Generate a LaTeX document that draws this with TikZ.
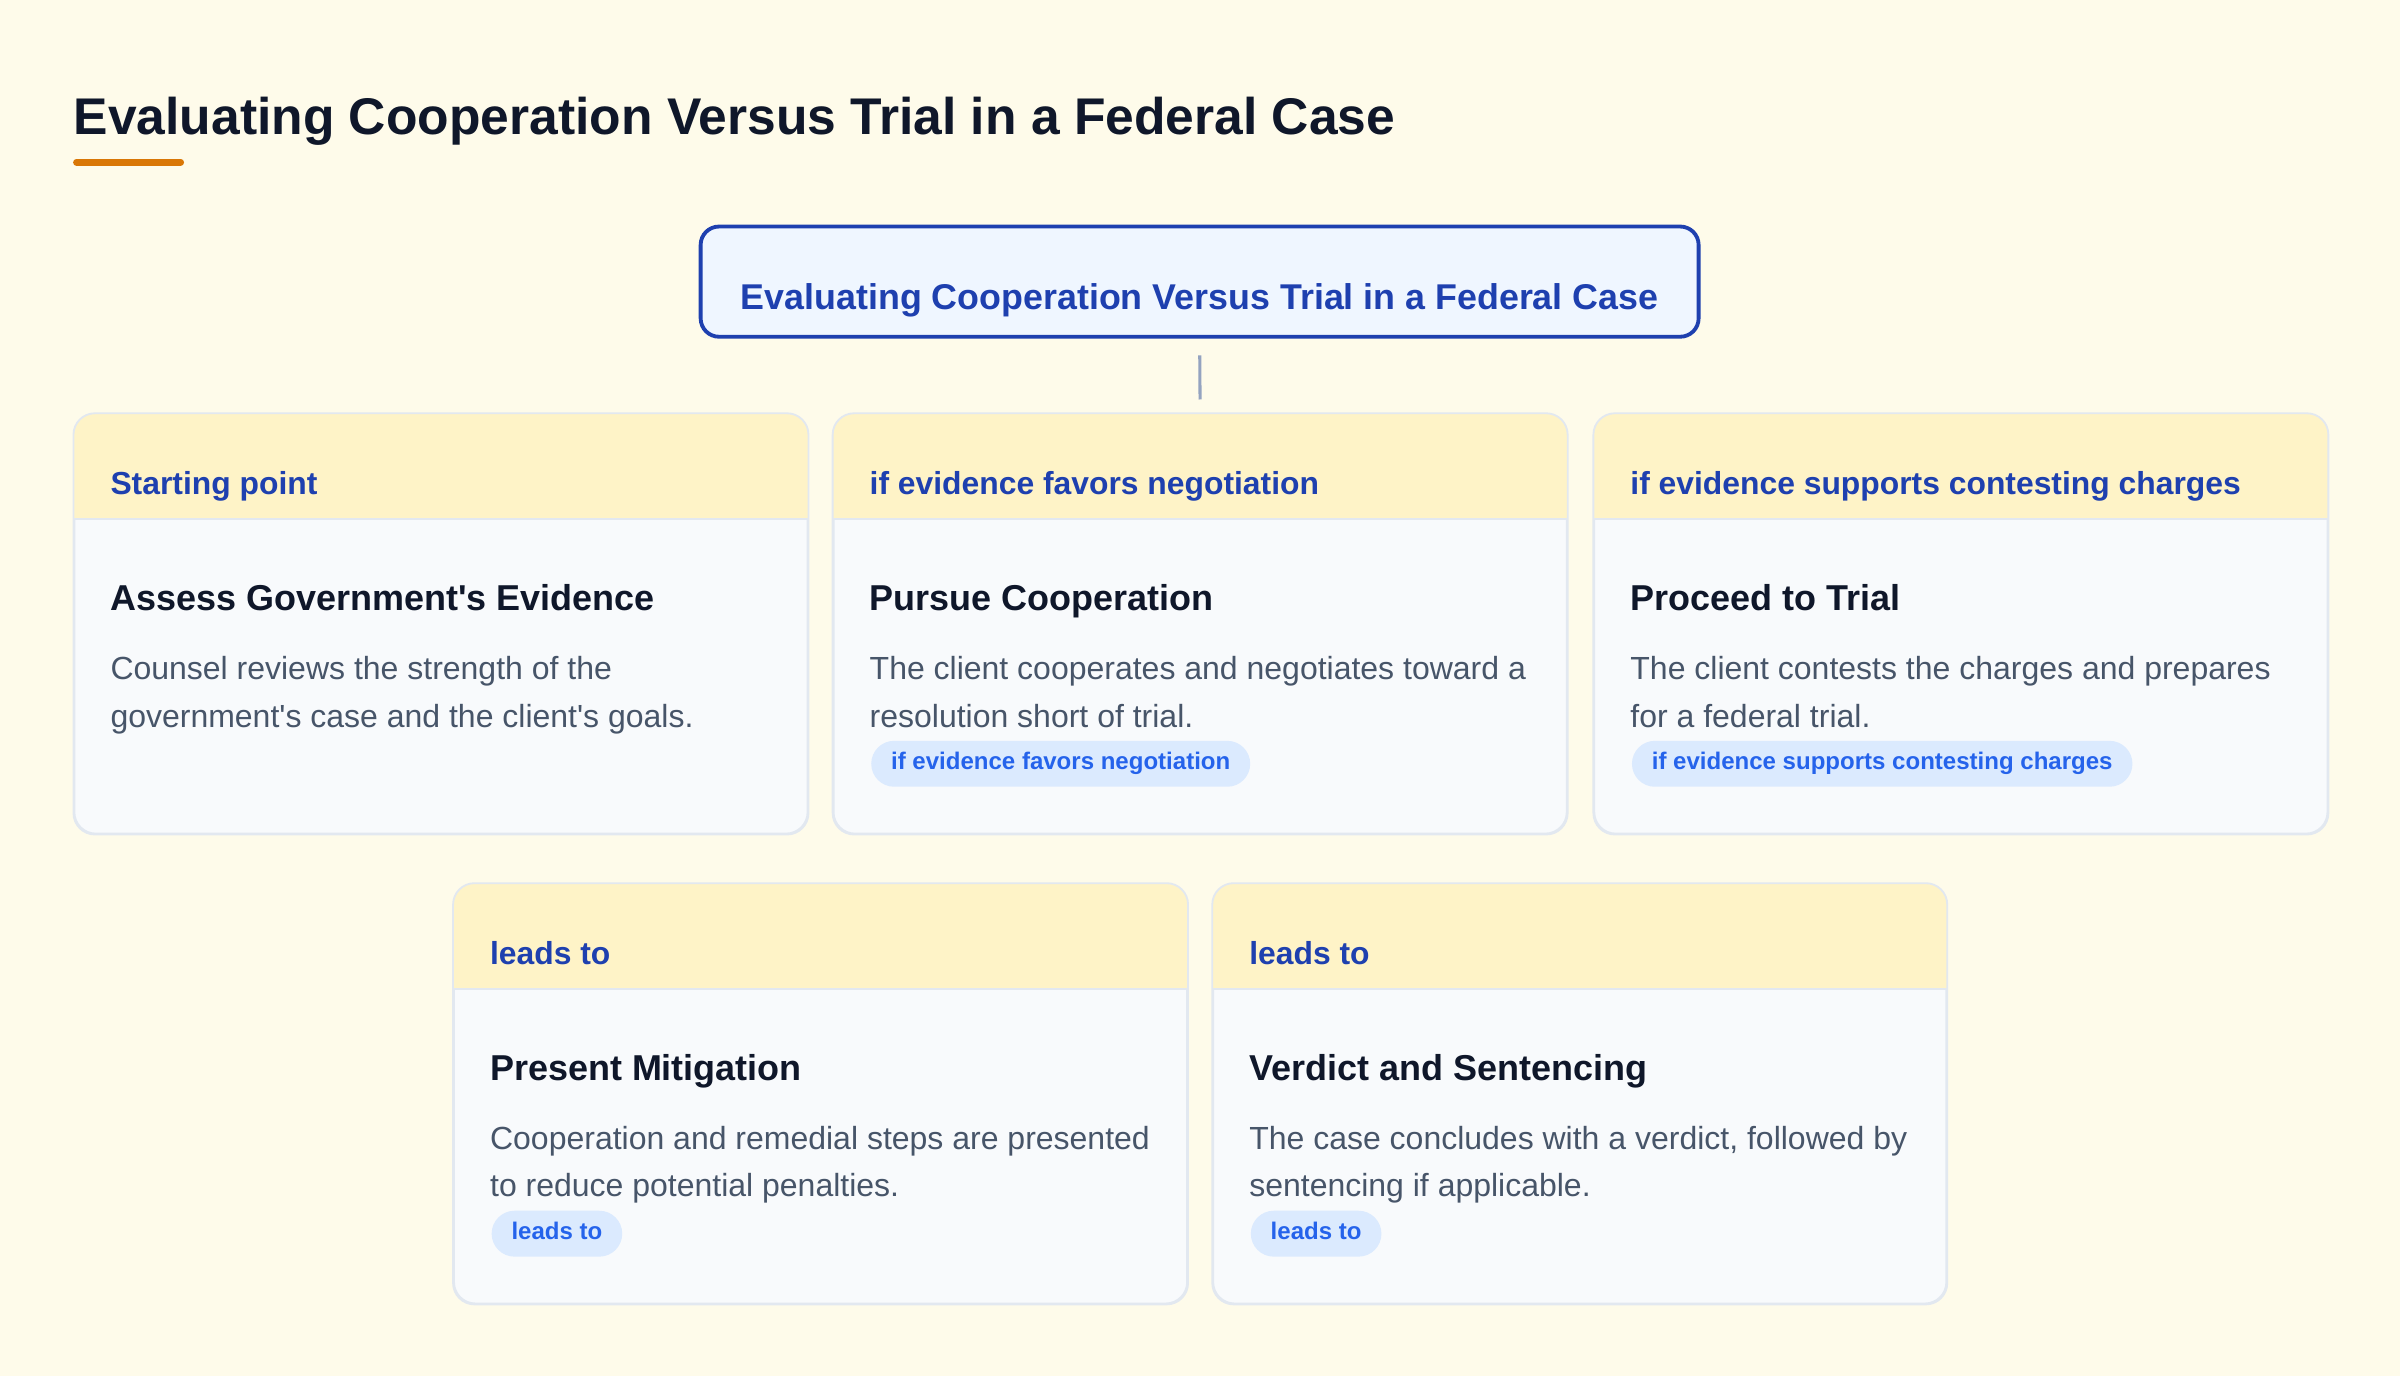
\documentclass[tikz,border=0pt]{standalone}
\usepackage{fontspec}
\setmainfont{Liberation Sans}
\usetikzlibrary{calc}
\definecolor{bgc}{HTML}{FEFBEA}
\definecolor{titlec}{HTML}{0F172A}
\definecolor{accent}{HTML}{D97706}
\definecolor{rootline}{HTML}{1E40AF}
\definecolor{rootfill}{HTML}{EFF6FF}
\definecolor{connc}{HTML}{94A3C0}
\definecolor{cardborder}{HTML}{E2E8F0}
\definecolor{cardfill}{HTML}{F8FAFC}
\definecolor{hdrc}{HTML}{FEF3C7}
\definecolor{descc}{HTML}{475569}
\definecolor{badgefill}{HTML}{DBEAFE}
\definecolor{badgetext}{HTML}{2563EB}
\tikzset{
  cardbox/.style={fill=cardfill, draw=cardborder, line width=1.2pt, rounded corners=14pt,
    minimum width=479pt, minimum height=274pt, inner sep=0pt},
  hdrfill/.style={fill=hdrc},
  divline/.style={draw=cardborder, line width=1.2pt},
  cardline/.style={draw=cardborder, line width=1.2pt},
  hdrtext/.style={anchor=base west, inner sep=0pt, text=rootline, font=\fontsize{20.8}{24}\selectfont\bfseries},
  titletext/.style={anchor=base west, inner sep=0pt, text=titlec, font=\fontsize{23.5}{28}\selectfont\bfseries},
  desctext/.style={anchor=base west, inner sep=0pt, text=descc, font=\fontsize{20.9}{31}\selectfont},
  badge/.style={anchor=west, fill=badgefill, text=badgetext, rounded corners=15pt, minimum height=30pt,
    inner xsep=13pt, inner ysep=0pt, text height=11.3pt, text depth=3.3pt,
    font=\fontsize{15.7}{18}\selectfont\bfseries},
  rootbox/.style={fill=rootfill, draw=rootline, line width=2.5pt, rounded corners=12pt,
    minimum width=652pt, minimum height=72pt, inner sep=0pt},
  roottext/.style={anchor=base, inner sep=0pt, text=rootline, font=\fontsize{23.4}{28}\selectfont\bfseries},
  conn/.style={draw=connc, line width=2pt},
}
\newcommand\drawcard[7]{%
  \node[cardbox, anchor=north west] (#1) at (#2,#3) {};
  \begin{scope}
    \clip[rounded corners=14pt] (#1.north west) rectangle (#1.south east);
    \fill[hdrfill] (#1.north west) rectangle ([yshift=-69pt]#1.north east);
  \end{scope}
  \draw[divline] ([yshift=-69pt]#1.north west) -- ([yshift=-69pt]#1.north east);
  \draw[cardline, rounded corners=14pt] (#1.north west) rectangle (#1.south east);
  \node[hdrtext] (#1-h) at ([shift={(24pt,-53pt)}]#1.north west) {#4};
  \node[titletext] (#1-t) at ([shift={(24pt,-129pt)}]#1.north west) {#5};
  \node[desctext] (#1-d1) at ([shift={(24pt,-174pt)}]#1.north west) {#6};
  \node[desctext] (#1-d2) at ([shift={(24pt,-205pt)}]#1.north west) {#7};
}
\begin{document}
\begin{tikzpicture}[x=1pt,y=-1pt]
\fill[bgc] (0,0) rectangle (1568,899);
\useasboundingbox (0,0) rectangle (1568,899);
% page title
\node[anchor=base west, inner sep=0pt, text=titlec, font=\fontsize{33.7}{40}\selectfont\bfseries] (title) at (48,88)
  {Evaluating Cooperation Versus Trial in a Federal Case};
\draw[accent, line width=4.5pt, line cap=round] (50,106) -- (118,106);
% root
\node[rootbox] (root) at (783.75,184) {};
\node[roottext] (roottxt) at (783.75,202) {Evaluating Cooperation Versus Trial in a Federal Case};
% cards
\drawcard{A}{48}{270}{Starting point}{Assess Government\textquotesingle s Evidence}
  {Counsel reviews the strength of the}{government\textquotesingle s case and the client\textquotesingle s goals.}
\drawcard{B}{544}{270}{if evidence favors negotiation}{Pursue Cooperation}
  {The client cooperates and negotiates toward a}{resolution short of trial.}
\drawcard{C}{1041}{270}{if evidence supports contesting charges}{Proceed to Trial}
  {The client contests the charges and prepares}{for a federal trial.}
\drawcard{D}{296}{577}{leads to}{Present Mitigation}
  {Cooperation and remedial steps are presented}{to reduce potential penalties.}
\drawcard{E}{792}{577}{leads to}{Verdict and Sentencing}
  {The case concludes with a verdict, followed by}{sentencing if applicable.}
% badges
\node[badge] (B-b) at ([shift={(25pt,-229pt)}]B.north west) {if evidence favors negotiation};
\node[badge] (C-b) at ([shift={(25pt,-229pt)}]C.north west) {if evidence supports contesting charges};
\node[badge] (D-b) at ([shift={(25pt,-229pt)}]D.north west) {leads to};
\node[badge] (E-b) at ([shift={(25pt,-229pt)}]E.north west) {leads to};
% connector
\draw[conn, shorten <=11pt, shorten >=9pt] (root.south) -- (B.north);
\end{tikzpicture}
\end{document}
